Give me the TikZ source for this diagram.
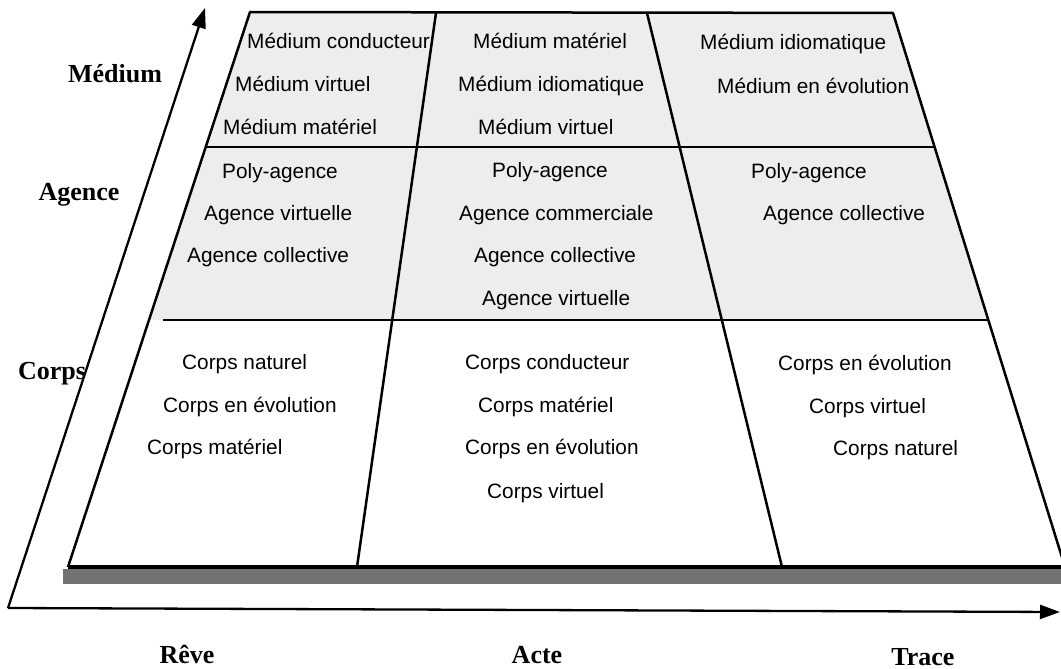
\documentclass[tikz,border=0pt]{standalone}
\usepackage{fontspec}
\setmainfont{Liberation Serif}
\setsansfont{Liberation Sans}
\usetikzlibrary{arrows.meta}
\begin{document}
\begin{tikzpicture}[x=1pt,y=-1pt,
  cell/.style={font=\sffamily\fontsize{20.8}{24}\selectfont, anchor=base west, inner sep=0pt},
  axislabel/.style={font=\bfseries\fontsize{26}{30}\selectfont, anchor=base, inner sep=0pt},
  frame/.style={line width=2.5pt, line join=round},
  axisarrow/.style={line width=2.3pt, -{Triangle[length=20pt,width=14pt]}}]
\useasboundingbox (0,0) rectangle (1061,669);
% corners
\coordinate (TL) at (250,12);
\coordinate (TR) at (893,13);
\coordinate (BL) at (68,567);
\coordinate (BR) at (1065,567);
\coordinate (L1) at (207,147);
\coordinate (R1) at (935,147);
\coordinate (L2) at (163,320);
\coordinate (R2) at (989,320);
\coordinate (LE2) at (149,320);
\coordinate (D1t) at (436,13);
\coordinate (D1b) at (357,567);
\coordinate (D2t) at (647,13);
\coordinate (D2b) at (782,567);
% shading
\fill[black!7] (TL) -- (TR) -- (R2) -- (LE2) -- cycle;
\fill[black!55] (63,569) rectangle (1061,584);
% frame
\draw[frame] (BL) -- (TL) -- (TR) -- (BR);
\draw[line width=3.2pt] (BL) -- (BR);
\draw[frame] (D1t) -- (D1b);
\draw[frame] (D2t) -- (D2b);
\draw[frame] (L1) -- (R1);
\draw[frame] (L2) -- (R2);
% axes
\coordinate (O) at (8,608);
\coordinate (YT) at (205,8);
\coordinate (XT) at (1060,612);
\node[axislabel] (lmed) at (115,82) {Médium};
\node[axislabel] (lage) at (79,200) {Agence};
\node[axislabel] (lcor) at (52,379) {Corps};
\node[axislabel] (lrev) at (187,663) {Rêve};
\node[axislabel] (lact) at (537,663) {Acte};
\node[axislabel] (ltra) at (923,665) {Trace};
\draw[axisarrow] (O) -- (YT);
\draw[axisarrow] (O) -- (XT);
% column 1
\node[cell] (a1) at (247,49) {Médium conducteur};
\node[cell] (a2) at (235,92) {Médium virtuel};
\node[cell] (a3) at (223,134) {Médium matériel};
\node[cell] (a4) at (222,178) {Poly-agence};
\node[cell] (a5) at (204,220) {Agence virtuelle};
\node[cell] (a6) at (187,262) {Agence collective};
\node[cell] (a7) at (182,369) {Corps naturel};
\node[cell] (a8) at (163,412) {Corps en évolution};
\node[cell] (a9) at (147,454) {Corps matériel};
% column 2
\node[cell] (b1) at (473,49) {Médium matériel};
\node[cell] (b2) at (458,92) {Médium idiomatique};
\node[cell] (b3) at (478,134) {Médium virtuel};
\node[cell] (b4) at (492,177) {Poly-agence};
\node[cell] (b5) at (459,220) {Agence commerciale};
\node[cell] (b6) at (474,262) {Agence collective};
\node[cell] (b7) at (482,305) {Agence virtuelle};
\node[cell] (b8) at (465,369) {Corps conducteur};
\node[cell] (b9) at (478,412) {Corps matériel};
\node[cell] (b10) at (465,454) {Corps en évolution};
\node[cell] (b11) at (487,498) {Corps virtuel};
% column 3
\node[cell] (c1) at (700,50) {Médium idiomatique};
\node[cell] (c2) at (717,93) {Médium en évolution};
\node[cell] (c3) at (751,178) {Poly-agence};
\node[cell] (c4) at (763,220) {Agence collective};
\node[cell] (c5) at (778,370) {Corps en évolution};
\node[cell] (c6) at (809,413) {Corps virtuel};
\node[cell] (c7) at (833,455) {Corps naturel};
\end{tikzpicture}
\end{document}
